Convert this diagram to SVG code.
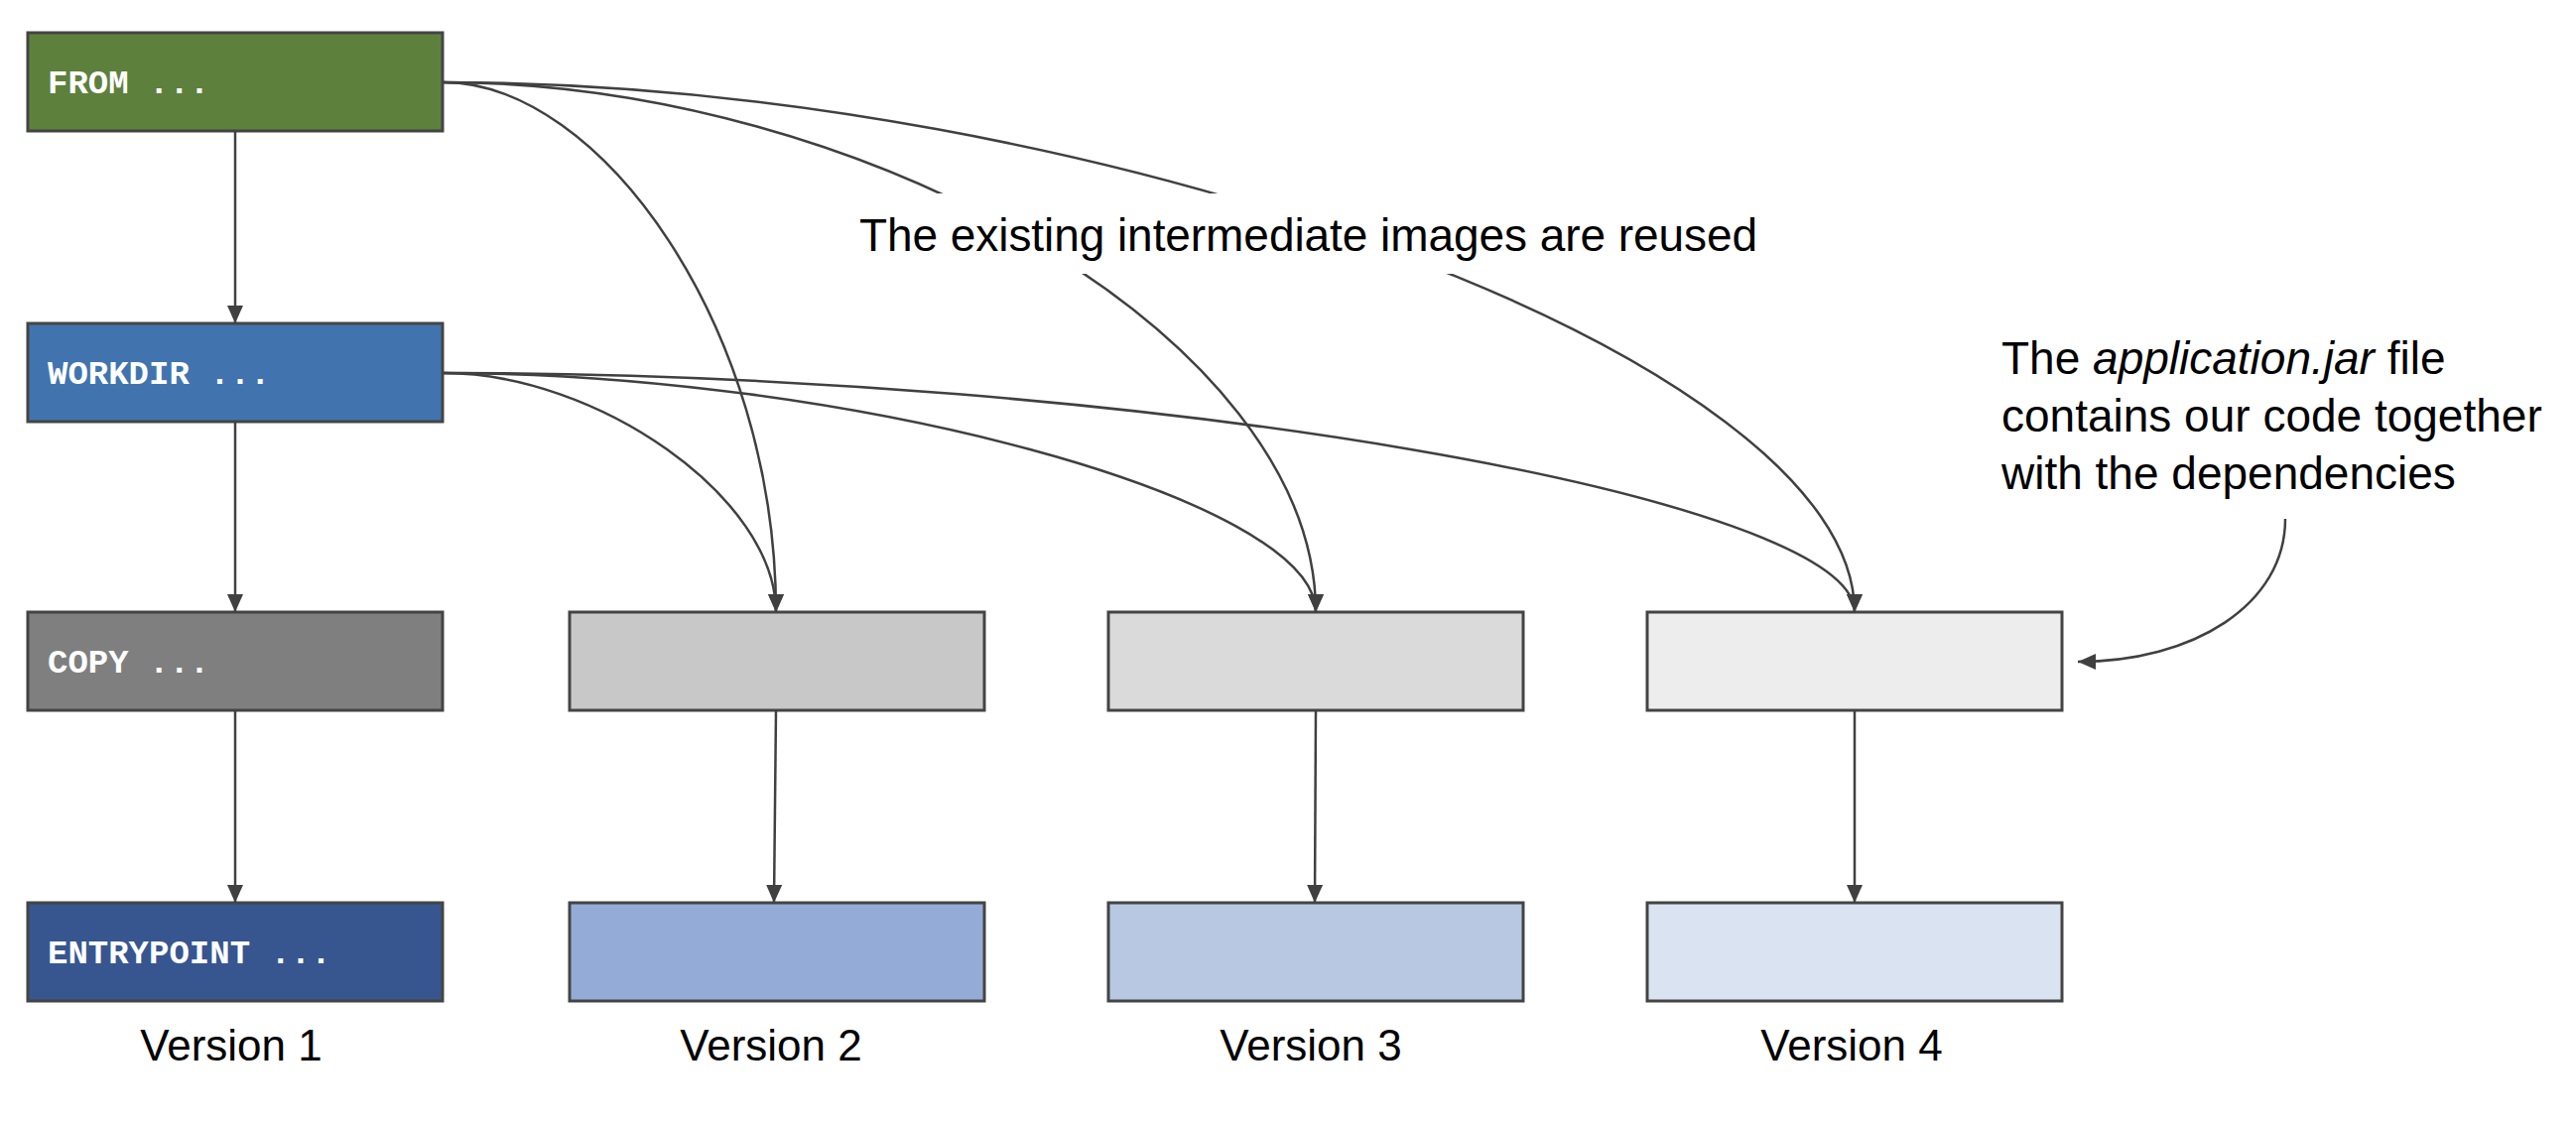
<svg xmlns="http://www.w3.org/2000/svg" width="2596" height="1134" viewBox="0 0 2596 1134">
<style>
.box{stroke:#444444;stroke-width:3}
.cmd{font-family:"Liberation Mono",monospace;font-weight:bold;font-size:34px;fill:#ffffff}
.lbl{font-family:"Liberation Sans",Arial,sans-serif;font-size:44px;fill:#000000}
.note{font-family:"Liberation Sans",Arial,sans-serif;font-size:46px;fill:#000000}
.conn{fill:none;stroke:#404040;stroke-width:2.5}
</style>
<defs>
<marker id="ah" markerUnits="userSpaceOnUse" markerWidth="18" markerHeight="16" viewBox="0 0 18 16" refX="18" refY="8" orient="auto">
<path d="M0,0 L18,8 L0,16 z" fill="#404040"/>
</marker>
</defs>
<rect width="2596" height="1134" fill="#ffffff"/>

<g id="v1-from"><rect class="box" x="28" y="33" width="418" height="99" fill="#5E803D"/><text class="cmd" x="48" y="94">FROM ...</text></g>
<g id="v1-workdir"><rect class="box" x="28" y="326" width="418" height="99" fill="#4174AF"/><text class="cmd" x="48" y="387">WORKDIR ...</text></g>
<g id="v1-copy"><rect class="box" x="28" y="617" width="418" height="99" fill="#7F7F7F"/><text class="cmd" x="48" y="678">COPY ...</text></g>
<g id="v1-entry"><rect class="box" x="28" y="910" width="418" height="99" fill="#37568F"/><text class="cmd" x="48" y="971">ENTRYPOINT ...</text></g>

<g id="v2-copy"><rect class="box" x="574" y="617" width="418" height="99" fill="#C8C8C8"/></g>
<g id="v2-entry"><rect class="box" x="574" y="910" width="418" height="99" fill="#95ABD7"/></g>
<g id="v3-copy"><rect class="box" x="1117" y="617" width="418" height="99" fill="#DADADA"/></g>
<g id="v3-entry"><rect class="box" x="1117" y="910" width="418" height="99" fill="#B8C8E3"/></g>
<g id="v4-copy"><rect class="box" x="1660" y="617" width="418" height="99" fill="#EDEDED"/></g>
<g id="v4-entry"><rect class="box" x="1660" y="910" width="418" height="99" fill="#DAE3F1"/></g>

<g id="labels">
<text class="lbl" x="233" y="1069" text-anchor="middle">Version 1</text>
<text class="lbl" x="777" y="1069" text-anchor="middle">Version 2</text>
<text class="lbl" x="1321" y="1069" text-anchor="middle">Version 3</text>
<text class="lbl" x="1866" y="1069" text-anchor="middle">Version 4</text>
</g>

<g id="connectors">
<path class="conn" d="M237,132 L237,326" marker-end="url(#ah)"/>
<path class="conn" d="M237,425 L237,617" marker-end="url(#ah)"/>
<path class="conn" d="M237,716 L237,910" marker-end="url(#ah)"/>
<path class="conn" d="M782,716 L780,910" marker-end="url(#ah)"/>
<path class="conn" d="M1326,716 L1325,910" marker-end="url(#ah)"/>
<path class="conn" d="M1869,716 L1869,910" marker-end="url(#ah)"/>
<path class="conn" d="M447,83 C605,83 782,330 782,617" marker-end="url(#ah)"/>
<path class="conn" d="M447,83 C870,83 1326,340 1326,617" marker-end="url(#ah)"/>
<path class="conn" d="M447,83 C1100,83 1869,360 1869,617" marker-end="url(#ah)"/>
<path class="conn" d="M447,376 C601,376 782,501 782,617" marker-end="url(#ah)"/>
<path class="conn" d="M447,376 C851,376 1326,501 1326,617" marker-end="url(#ah)"/>
<path class="conn" d="M447,376 C1150,376 1869,501 1869,617" marker-end="url(#ah)"/>
<path class="conn" d="M2303,523 C2303,610 2210,667 2094,667" marker-end="url(#ah)"/>
</g>

<g id="note-reuse">
<rect x="855" y="195" width="935" height="81" fill="#ffffff"/>
<text class="note" x="866" y="253" textLength="905">The existing intermediate images are reused</text>
</g>
<g id="note-jar">
<text class="note" x="2017" y="377">The <tspan font-style="italic">application.jar</tspan> file</text>
<text class="note" x="2017" y="435">contains our code together</text>
<text class="note" x="2017" y="493">with the dependencies</text>
</g>
</svg>
